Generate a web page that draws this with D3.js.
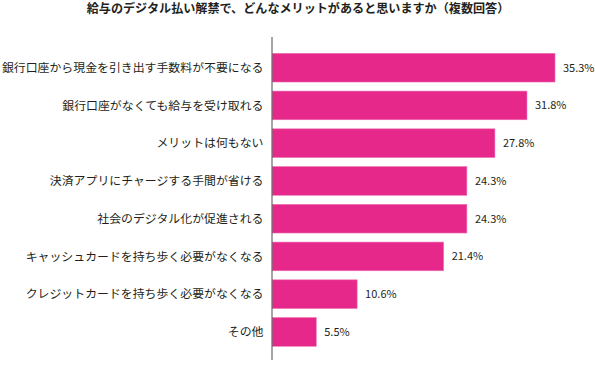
<!DOCTYPE html>
<html><head><meta charset="utf-8">
<script src="https://cdn.jsdelivr.net/npm/d3@7"></script>
<style>
html,body{margin:0;padding:0;background:#fff;}
text{font-family:"Noto Sans CJK JP","Noto Sans",sans-serif;fill:#231f20;}
</style></head>
<body>
<svg id="chart" width="595" height="365"></svg>
<script>
const title = "給与のデジタル払い解禁で、どんなメリットがあると思いますか（複数回答）";
const categories = [
  "銀行口座から現金を引き出す手数料が不要になる",
  "銀行口座がなくても給与を受け取れる",
  "メリットは何もない",
  "決済アプリにチャージする手間が省ける",
  "社会のデジタル化が促進される",
  "キャッシュカードを持ち歩く必要がなくなる",
  "クレジットカードを持ち歩く必要がなくなる",
  "その他"
];
const values = [35.3, 31.8, 27.8, 24.3, 24.3, 21.4, 10.6, 5.5];

const svg = d3.select("#chart");
const x = d3.scaleLinear().domain([0, 35.3]).range([272.2, 555]);
const y = d3.scaleBand().domain(categories).range([48.8, 350.8]).paddingInner(0.24).paddingOuter(0.12);

svg.append("text").attr("x", 298).attr("y", 13).attr("text-anchor", "middle")
  .style("font-size", "12.1px").style("font-weight", "bold").text(title);

svg.selectAll("rect.bar").data(values).join("rect").attr("class", "bar")
  .attr("x", x(0)).attr("y", (d, i) => y(categories[i]))
  .attr("width", d => x(d) - x(0)).attr("height", y.bandwidth())
  .attr("fill", "#e5288a").attr("stroke", "#ee72b3").attr("stroke-width", 0.6);

svg.append("line").attr("x1", 272).attr("x2", 272).attr("y1", 37).attr("y2", 360)
  .attr("stroke", "#4d4d4d").attr("stroke-width", 1);

svg.selectAll("text.cat").data(categories).join("text").attr("class", "cat")
  .attr("x", 263.5).attr("y", d => y(d) + y.bandwidth() / 2)
  .attr("dy", "0.36em").attr("text-anchor", "end")
  .style("font-size", "11.9px").text(d => d);

svg.selectAll("text.val").data(values).join("text").attr("class", "val")
  .attr("x", d => x(d) + 8).attr("y", (d, i) => y(categories[i]) + y.bandwidth() / 2)
  .attr("dy", "0.36em").style("font-size", "11px")
  .text(d => d.toFixed(1) + "%");
</script>
</body></html>
